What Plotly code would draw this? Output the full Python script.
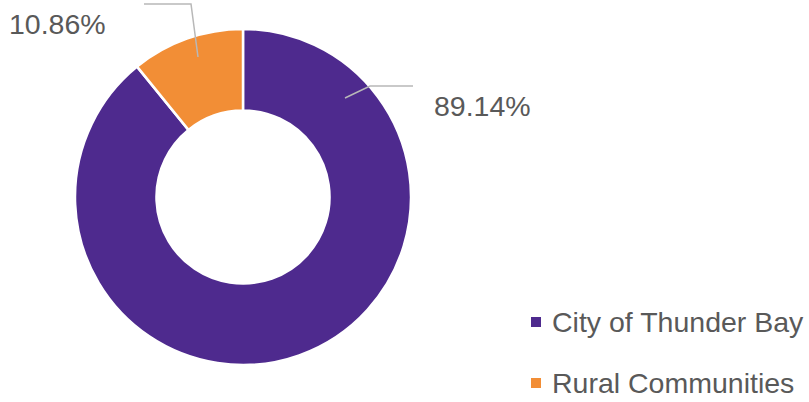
import plotly.graph_objects as go

# data
categories = ["City of Thunder Bay", "Rural Communities"]
shares = [89.14, 10.86]
colors = ["#4E2A8E", "#F28E36"]

W, H = 809, 402
TEXT = "#595959"
FONT = "Arial, Liberation Sans, sans-serif"


def px(x):
    return x / W


def py(y):
    return 1 - y / H


fig = go.Figure(go.Pie(
    labels=categories,
    values=shares,
    sort=False,
    direction="clockwise",
    rotation=0,
    hole=0.515,
    textinfo="none",
    marker=dict(colors=colors, line=dict(color="white", width=2.5)),
    domain=dict(x=[px(75), px(411)], y=[py(365), py(29)]),
    showlegend=False,
))

# data labels with leader lines (positions in pixels)
label_pos = [(432, 106), (7, 24)]
leaders = [
    [(345, 98), (370, 86), (413, 86)],
    [(198, 57), (191, 4), (144, 4)],
]
for val, (lx, ly), pts in zip(shares, label_pos, leaders):
    fig.add_annotation(
        x=px(lx), y=py(ly), xref="paper", yref="paper",
        text=f"{val:.2f}%", showarrow=False,
        xanchor="left", yanchor="middle",
        font=dict(size=28.5, color=TEXT, family=FONT),
    )
    path = "M " + " L ".join(f"{px(x)},{py(y)}" for x, y in pts)
    fig.add_shape(type="path", path=path, xref="paper", yref="paper",
                  line=dict(color="#B8B8B8", width=1.5))

# legend
legend_y = [322, 383]
for name, col, ly in zip(categories, colors, legend_y):
    fig.add_shape(type="rect", xref="paper", yref="paper",
                  x0=px(531), x1=px(541), y0=py(ly - 5), y1=py(ly + 5),
                  fillcolor=col, line=dict(width=0))
    fig.add_annotation(
        x=px(550), y=py(ly), xref="paper", yref="paper",
        text=name, showarrow=False, xanchor="left", yanchor="middle",
        font=dict(size=28.5, color=TEXT, family=FONT),
    )

fig.update_layout(
    width=W, height=H,
    margin=dict(l=0, r=0, t=0, b=0),
    paper_bgcolor="white",
    plot_bgcolor="white",
)

fig.write_html("out.html", config={"displayModeBar": False},
               post_script="document.body.style.margin='0';")
